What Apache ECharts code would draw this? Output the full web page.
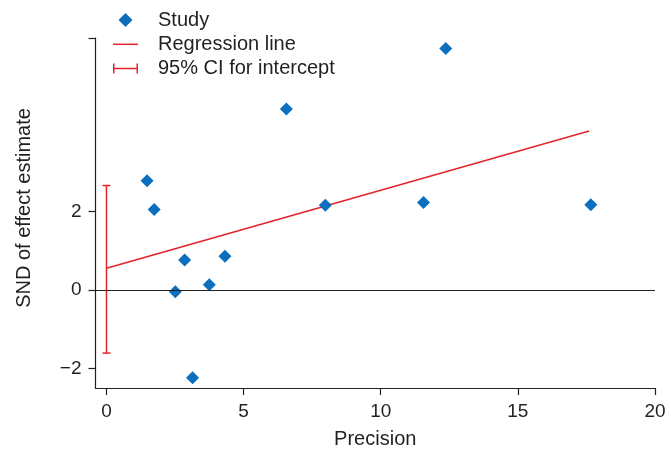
<!DOCTYPE html>
<html>
<head>
<meta charset="utf-8">
<script src="https://cdn.jsdelivr.net/npm/echarts@6/dist/echarts.min.js"></script>
<style>
  html, body { margin: 0; padding: 0; background: #fff; }
  #chart { width: 671px; height: 457px; }
</style>
</head>
<body>
<div id="chart"></div>
<script>
// studies: precision (x) and SND of effect estimate (y)
const precision = [1.48, 1.74, 2.51, 2.85, 3.14, 3.75, 4.32, 6.56, 7.98, 11.56, 12.37, 17.66];
const snd = [2.78, 2.05, -0.05, 0.76, -2.24, 0.13, 0.86, 4.61, 2.16, 2.23, 6.15, 2.17];

// regression line end points
const regX = [0, 17.6];
const regY = [0.55, 4.05];

// 95% CI for intercept
const ciLow = -1.61;
const ciHigh = 2.66;

const xTicks = [0, 5, 10, 15, 20];
const yTicks = [-2, 0, 2];

const RED = '#e3242b';
const BLUE = '#0b6fbd';
const INK = '#231f20';
const FONT = '"Liberation Sans", Arial, sans-serif';

const chart = echarts.init(document.getElementById('chart'));

chart.setOption({
    animation: false,
    textStyle: { fontFamily: FONT, color: INK },
    grid: { left: 95.5, right: 16, top: 38, bottom: 69, outerBoundsMode: 'none', containLabel: false },
    legend: {
        orient: 'vertical',
        left: 113,
        top: 10,
        padding: 0,
        itemGap: 4.3,
        itemWidth: 25,
        itemHeight: 14,
        textStyle: { fontSize: 20, color: INK, lineHeight: 20, padding: [0, 0, 0, 15] },
        data: [
            { name: 'Study', icon: 'path://M0,-6L6,0L0,6L-6,0Z' },
            { name: 'Regression line', icon: 'path://M0,0h25v1.5h-25z' },
            { name: '95% CI for intercept', icon: 'path://M0,0h1.5v10h-1.5zM0,4.25h25v1.5h-25zM23.5,0h1.5v10h-1.5z' }
        ]
    },
    xAxis: {
        type: 'value',
        min: -0.4,
        max: 20,
        name: 'Precision',
        nameLocation: 'middle',
        nameGap: 41,
        nameTextStyle: { fontSize: 20, color: INK },
        splitLine: { show: false },
        axisLine: { onZero: false, lineStyle: { color: INK, width: 1.2 } },
        axisTick: { customValues: xTicks, length: 7, lineStyle: { color: INK, width: 1.2 } },
        axisLabel: { customValues: xTicks, fontSize: 19, color: INK, margin: 14 }
    },
    yAxis: {
        type: 'value',
        min: -2.5,
        max: 6.42,
        name: 'SND of effect estimate',
        nameLocation: 'middle',
        nameGap: 61,
        nameTextStyle: { fontSize: 20, color: INK, padding: [0, 0, 0, 10] },
        splitLine: { show: false },
        axisLine: { onZero: false, lineStyle: { color: INK, width: 1.2 } },
        axisTick: { customValues: yTicks.concat([6.42]), length: 7, lineStyle: { color: INK, width: 1.2 } },
        axisLabel: {
            customValues: yTicks,
            fontSize: 19,
            color: INK,
            margin: 14,
            formatter: v => (v < 0 ? '\u2212' + Math.abs(v) : String(v))
        }
    },
    series: [
        {
            name: 'Study',
            type: 'scatter',
            symbol: 'diamond',
            symbolSize: 13,
            itemStyle: { color: BLUE, opacity: 1 },
            data: precision.map((p, i) => [p, snd[i]]),
            markLine: {
                silent: true,
                symbol: 'none',
                label: { show: false },
                lineStyle: { color: INK, type: 'solid', width: 1.2 },
                data: [{ yAxis: 0 }]
            },
            z: 4
        },
        {
            name: 'Regression line',
            type: 'line',
            symbol: 'none',
            color: RED,
            lineStyle: { color: RED, width: 1.5 },
            data: regX.map((x, i) => [x, regY[i]]),
            z: 3
        },
        {
            name: '95% CI for intercept',
            type: 'custom',
            itemStyle: { color: RED },
            encode: { x: 0, y: [1, 2] },
            data: [[0, ciLow, ciHigh]],
            renderItem: function (params, api) {
                const lo = api.coord([api.value(0), api.value(1)]);
                const hi = api.coord([api.value(0), api.value(2)]);
                const w = 4;
                const st = { stroke: RED, lineWidth: 1.5 };
                return {
                    type: 'group',
                    children: [
                        { type: 'line', shape: { x1: lo[0], y1: lo[1], x2: hi[0], y2: hi[1] }, style: st },
                        { type: 'line', shape: { x1: lo[0] - w, y1: lo[1], x2: lo[0] + w, y2: lo[1] }, style: st },
                        { type: 'line', shape: { x1: hi[0] - w, y1: hi[1], x2: hi[0] + w, y2: hi[1] }, style: st }
                    ]
                };
            },
            z: 3
        }
    ]
});
</script>
</body>
</html>
